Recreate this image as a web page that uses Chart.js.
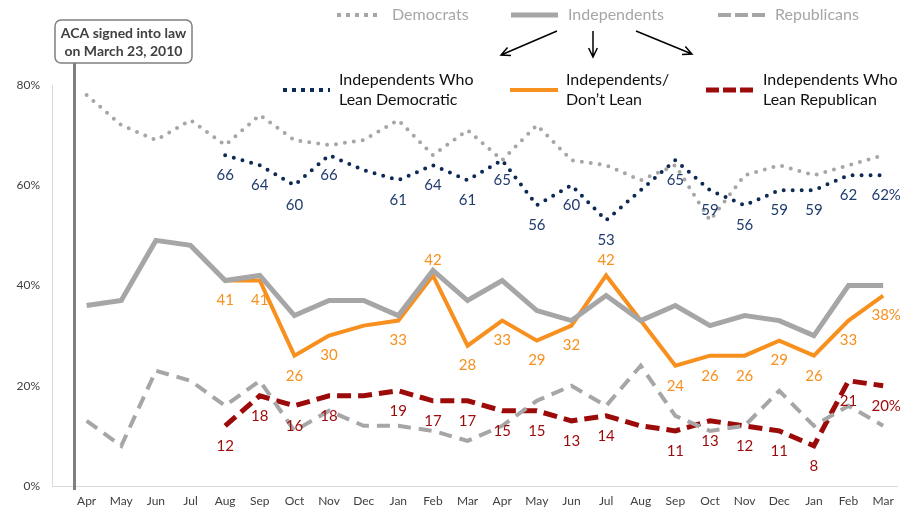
<!DOCTYPE html>
<html>
<head>
<meta charset="utf-8">
<script src="https://cdn.jsdelivr.net/npm/chart.js@4.4.0/dist/chart.umd.min.js"></script>
<style>
  body { margin: 0; background: #fff; }
  #wrap { width: 901px; height: 511px; }
</style>
</head>
<body>
<div id="wrap"><canvas id="myChart" width="901" height="511"></canvas></div>
<script>
const months = ['Apr', 'May', 'Jun', 'Jul', 'Aug', 'Sep', 'Oct', 'Nov', 'Dec', 'Jan', 'Feb', 'Mar',
    'Apr', 'May', 'Jun', 'Jul', 'Aug', 'Sep', 'Oct', 'Nov', 'Dec', 'Jan', 'Feb', 'Mar'];
const yTicks = [0, 20, 40, 60, 80];

const democrats = [78, 72, 69, 73, 68, 74, 69, 68, 69, 73, 66, 71, 65, 72, 65, 64, 61, 64, 53, 62, 64, 62, 64, 66];
const independents = [36, 37, 49, 48, 41, 42, 34, 37, 37, 34, 43, 37, 41, 35, 33, 38, 33, 36, 32, 34, 33, 30, 40, 40];
const republicans = [13, 8, 23, 21, 16, 21, 11, 15, 12, 12, 11, 9, 12, 17, 20, 16, 24, 14, 11, 12, 19, 12, 16, 12];
const leanDem = [null, null, null, null, 66, 64, 60, 66, 63, 61, 64, 61, 65, 56, 60, 53, 59, 65, 59, 56, 59, 59, 62, 62];
const noLean = [null, null, null, null, 41, 41, 26, 30, 32, 33, 42, 28, 33, 29, 32, 42, 33, 24, 26, 26, 29, 26, 33, 38];
const leanRep = [null, null, null, null, 12, 18, 16, 18, 18, 19, 17, 17, 15, 15, 13, 14, 12, 11, 13, 12, 11, 8, 21, 20];

// months where no number is printed, and orange points whose number sits above
const unlabeled = [8, 16];
const orangeAbove = [10, 15];

const GRAY = '#a6a6a6';
const NAVY = '#0d2a55';
const ORANGE = '#f7901e';
const RED = '#9c0a0a';
const FONT = 'Lato, "Noto Sans", sans-serif';

function pts(arr) {
    return arr.map((v, i) => ({ x: i, y: v }));
}

const data = {
    datasets: [
        { label: 'Democrats', data: pts(democrats), borderColor: GRAY, borderWidth: 4, borderDash: [0, 9], borderCapStyle: 'round' },
        { label: 'Independents', data: pts(independents), borderColor: GRAY, borderWidth: 5 },
        { label: 'Republicans', data: pts(republicans), borderColor: GRAY, borderWidth: 4, borderDash: [13, 8] },
        { label: 'Independents Who Lean Democratic', data: pts(leanDem), borderColor: NAVY, borderWidth: 4, borderDash: [0, 9], borderCapStyle: 'round', labelColor: '#1f3c6e' },
        { label: 'Independents/ Don\u2019t Lean', data: pts(noLean), borderColor: ORANGE, borderWidth: 4, labelColor: ORANGE },
        { label: 'Independents Who Lean Republican', data: pts(leanRep), borderColor: RED, borderWidth: 5, borderDash: [14, 7], labelColor: RED },
    ]
};

const valueLabels = {
    id: 'valueLabels',
    afterDatasetsDraw(chart) {
        const ctx = chart.ctx;
        ctx.save();
        ctx.font = '15px ' + FONT;
        ctx.textAlign = 'center';
        ctx.textBaseline = 'middle';
        chart.data.datasets.forEach((ds, di) => {
            if (!ds.labelColor) return;
            const meta = chart.getDatasetMeta(di);
            ctx.fillStyle = ds.labelColor;
            meta.data.forEach((p, i) => {
                const v = ds.data[i].y;
                if (v === null || unlabeled.includes(i)) return;
                const above = ds.labelColor === ORANGE && orangeAbove.includes(i);
                const txt = i === months.length - 1 ? v + '%' : String(v);
                ctx.fillText(txt, p.x + (i === months.length - 1 ? 3 : 0), p.y + (above ? -15 : 20));
            });
        });
        ctx.restore();
    }
};

function sample(ctx, x1, x2, y, color, width, dash, cap) {
    ctx.save();
    ctx.strokeStyle = color;
    ctx.lineWidth = width;
    ctx.setLineDash(dash);
    ctx.lineCap = cap || 'butt';
    ctx.beginPath();
    ctx.moveTo(x1, y);
    ctx.lineTo(x2, y);
    ctx.stroke();
    ctx.restore();
}

function arrow(ctx, x1, y1, x2, y2) {
    const a = Math.atan2(y2 - y1, x2 - x1);
    ctx.beginPath();
    ctx.moveTo(x1, y1);
    ctx.lineTo(x2, y2);
    ctx.moveTo(x2 - 10 * Math.cos(a - 0.45), y2 - 10 * Math.sin(a - 0.45));
    ctx.lineTo(x2, y2);
    ctx.lineTo(x2 - 10 * Math.cos(a + 0.45), y2 - 10 * Math.sin(a + 0.45));
    ctx.stroke();
}

const decorations = {
    id: 'decorations',
    afterDraw(chart) {
        const ctx = chart.ctx;
        const xs = chart.scales.x;
        ctx.save();

        // ACA marker
        const ax = xs.getPixelForValue(-0.35);
        ctx.strokeStyle = '#7f7f7f';
        ctx.lineWidth = 3;
        ctx.beginPath();
        ctx.moveTo(ax, 63);
        ctx.lineTo(ax, 490);
        ctx.stroke();
        ctx.lineWidth = 1.5;
        ctx.fillStyle = '#fff';
        ctx.beginPath();
        ctx.roundRect(55, 20, 137, 43, 6);
        ctx.fill();
        ctx.stroke();
        ctx.fillStyle = '#404040';
        ctx.font = 'bold 14px ' + FONT;
        ctx.textAlign = 'center';
        ctx.textBaseline = 'middle';
        ctx.fillText('ACA signed into law', 123.5, 33);
        ctx.fillText('on March 23, 2010', 123.5, 51);

        // top legend row
        ctx.textAlign = 'left';
        ctx.font = '16px ' + FONT;
        ctx.fillStyle = GRAY;
        sample(ctx, 337, 380, 15, GRAY, 4, [4, 5]);
        ctx.fillText('Democrats', 392, 15);
        sample(ctx, 511, 558, 15, GRAY, 5, []);
        ctx.fillText('Independents', 568, 15);
        sample(ctx, 718, 765, 15, GRAY, 4, [13, 4]);
        ctx.fillText('Republicans', 775, 15);

        ctx.strokeStyle = '#000';
        ctx.lineWidth = 1.5;
        arrow(ctx, 557, 31, 501, 55);
        arrow(ctx, 593, 31, 593, 57);
        arrow(ctx, 636, 31, 692, 54);

        // second legend row
        ctx.fillStyle = '#111';
        sample(ctx, 283, 330, 90, NAVY, 4, [4, 5]);
        ctx.fillText('Independents Who', 339, 80);
        ctx.fillText('Lean Democratic', 339, 100);
        sample(ctx, 510, 558, 90, ORANGE, 4, []);
        ctx.fillText('Independents/', 566, 80);
        ctx.fillText('Don\u2019t Lean', 566, 100);
        sample(ctx, 706, 754, 90, RED, 5, [13, 4]);
        ctx.fillText('Independents Who', 763, 80);
        ctx.fillText('Lean Republican', 763, 100);

        ctx.restore();
    }
};

const config = {
    type: 'line',
    data: data,
    options: {
        responsive: false,
        animation: false,
        layout: { padding: { top: 85, right: 4, left: 0, bottom: 0 } },
        elements: { point: { radius: 0 }, line: { tension: 0 } },
        plugins: { legend: { display: false }, tooltip: { enabled: false } },
        scales: {
            x: {
                type: 'linear',
                min: -1,
                max: 23.4,
                grid: { display: false },
                border: { color: '#d9d9d9' },
                afterBuildTicks: s => { s.ticks = months.map((m, i) => ({ value: i })); },
                afterFit: s => { s.height = 25; },
                ticks: {
                    autoSkip: false,
                    maxRotation: 0,
                    padding: 0,
                    color: '#404040',
                    font: { family: FONT, size: 12 },
                    callback: v => months[v] || ''
                }
            },
            y: {
                min: 0,
                max: 80,
                grid: { display: false },
                border: { color: '#d9d9d9' },
                afterBuildTicks: s => { s.ticks = yTicks.map(v => ({ value: v })); },
                afterFit: s => { s.width = 52; },
                ticks: {
                    padding: 4,
                    color: '#404040',
                    font: { family: FONT, size: 12 },
                    callback: v => v + '%'
                }
            }
        }
    },
    plugins: [valueLabels, decorations]
};

new Chart(
    document.getElementById('myChart'),
    config
);
</script>
</body>
</html>
